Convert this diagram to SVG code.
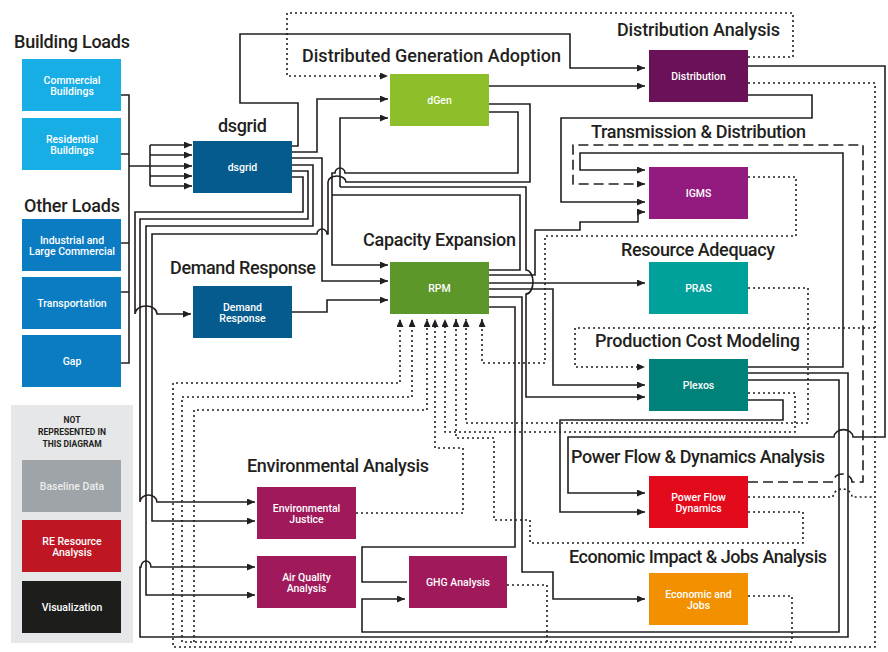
<svg xmlns="http://www.w3.org/2000/svg" width="888" height="652" viewBox="0 0 888 652">
  <defs>
    <marker id="ah" viewBox="0 0 8 7" refX="8" refY="3.5" markerWidth="8" markerHeight="7" markerUnits="userSpaceOnUse" orient="auto">
      <path d="M0,0 L8,3.5 L0,7 z" fill="#231f20"/>
    </marker>
    <style>
      .t { font-family: Roboto, "Open Sans", "Liberation Sans", sans-serif; font-weight: 500; font-size: 18px; fill: #231f20; }
      .n { font-family: Roboto, "Open Sans", "Liberation Sans", sans-serif; font-weight: 500; font-size: 10.5px; fill: #ffffff; text-anchor: middle; }
      .lg { font-family: Roboto, "Open Sans", "Liberation Sans", sans-serif; font-weight: 700; font-size: 8.5px; fill: #231f20; text-anchor: middle; }
      .ln { fill: none; stroke: #231f20; stroke-width: 1.6; }
      .dt { fill: none; stroke: #231f20; stroke-width: 1.6; stroke-dasharray: 2 3; }
      .ds { fill: none; stroke: #231f20; stroke-width: 1.6; stroke-dasharray: 10 5; }
      .arr { marker-end: url(#ah); }
    </style>
  </defs>

  <rect width="888" height="652" fill="#ffffff"/>

  <!-- connectors -->
  <g id="connectors">
    <!-- load inputs into dsgrid -->
    <path class="ln" d="M121,95 H129 V363 H121 M121,154 H129 M121,243 H129 M121,292 H129 M129,166 H150 M150,145 V186"/>
    <path class="ln arr" d="M150,145 H192"/>
    <path class="ln arr" d="M150,155 H192"/>
    <path class="ln arr" d="M150,166 H192"/>
    <path class="ln arr" d="M150,176 H192"/>
    <path class="ln arr" d="M150,186 H192"/>

    <!-- dsgrid outputs -->
    <path class="ln arr" d="M292,146 H298 V103 H240 V34 H570 V68 H645"/>
    <path class="ln arr" d="M292,152 H317 V99 H388"/>
    <path class="ln arr" d="M292,158 H322 V281 H388"/>
    <path class="ln arr" d="M292,165 H313 V226 H146 V595 H255"/>
    <path class="ln arr" d="M292,171 H308 V219 H140 V502 A8.5,7 0 0 1 157,502 H255"/>
    <path class="ln arr" d="M292,177 H303 V212 H135 V314 A11,8 0 0 1 157,314 H191"/>

    <!-- dGen links -->
    <path class="ln arr" d="M489,86 H645"/>
    <path class="ln arr" d="M489,112 H518 V173 H345 A5,5 0 0 0 335,173 H332 V265 H388"/>
    <path class="ln arr" d="M489,104 H530 V182 H346 A9,6 0 0 0 328,182 V234 H327 A5,5 0 0 0 317,234 H152 V521 H255"/>
    <path class="ln arr" d="M340,187 H526 V270 A7,12 0 0 1 526,294 V397 H645"/>
    <path class="ln arr" d="M340,187 V118 H388"/>
    <path class="ln" d="M332,195 H520 V270 H489"/>

    <!-- Demand Response to RPM -->
    <path class="ln arr" d="M292,312 H327 V300 H388"/>

    <!-- RPM outputs -->
    <path class="ln arr" d="M489,275 H535 V230 H580 V222 H638 V212 H645"/>
    <path class="ln arr" d="M489,283 H645"/>
    <path class="ln arr" d="M489,289 H553 V385 H645"/>
    <path class="ln arr" d="M489,297 H522 V572 H553 V599 H645"/>
    <path class="ln" d="M489,307 H515 V547 H362 V582 H407"/>

    <!-- Plexos outputs -->
    <path class="ln arr" d="M748,367 H843 V153 H580 V170 H645"/>
    <path class="ln arr" d="M748,373 H848 V637 H140 V567 H141 A5,6 0 0 1 151,567 H255"/>
    <path class="ln arr" d="M748,380 H839 V632 H362 V599 H405"/>
    <path class="ln arr" d="M748,400 H783 V420 H560 V512 H645"/>

    <!-- Distribution outputs -->
    <path class="ln arr" d="M748,66 H885 V437 H853 A9,7 0 0 0 834,437 H568 V493 H645"/>
    <path class="ln arr" d="M748,95 H812 V118 H561 V202 H645"/>

    <!-- dashed transmission & distribution loop -->
    <path class="ds arr" d="M748,482 H833 A9.5,8 0 0 1 852,482 H863 V145 H573 V184 H645"/>

    <!-- dotted feedback links -->
    <path class="dt arr" d="M748,57 H793 V13 H287 V76 H388"/>
    <path class="dt arr" d="M748,83 H875 V647 H173 V383 H400 V319"/>
    <path class="dt arr" d="M875,328 H575 V367 H645"/>
    <path class="dt arr" d="M748,177 H796 V236 H545 V363 H482 V319"/>
    <path class="dt arr" d="M748,288 H808 V423 H466 V319"/>
    <path class="dt arr" d="M748,393 H795 V432 H445 V319"/>
    <path class="dt" d="M748,497 H833 A9.5,8 0 0 1 852,497 H875"/>
    <path class="dt arr" d="M748,512 H803 V543 H530 V520 H494 V438 H456 V319"/>
    <path class="dt arr" d="M748,596 H792 V642 H182 V397 H412 V319"/>
    <path class="dt" d="M507,585 H547 V642"/>
    <path class="dt arr" d="M194,642 V410 H427 V319"/>
    <path class="dt arr" d="M356,513 H463 V448 H435 V319"/>
  </g>

  <!-- load sources -->
  <g id="building-loads">
    <text class="t" x="14" y="48" textLength="116">Building Loads</text>
  </g>
  <g id="commercial-buildings">
    <rect x="22" y="59" width="99" height="52" fill="#17ade5"/>
    <text class="n" x="72" y="83.5">Commercial</text>
    <text class="n" x="72" y="95">Buildings</text>
  </g>
  <g id="residential-buildings">
    <rect x="22" y="118" width="99" height="52" fill="#17ade5"/>
    <text class="n" x="72" y="142.5">Residential</text>
    <text class="n" x="72" y="154">Buildings</text>
  </g>
  <g id="other-loads">
    <text class="t" x="24" y="212" textLength="96">Other Loads</text>
  </g>
  <g id="industrial">
    <rect x="22" y="219" width="99" height="52" fill="#0b7bc2"/>
    <text class="n" x="72" y="243.5">Industrial and</text>
    <text class="n" x="72" y="255">Large Commercial</text>
  </g>
  <g id="transportation">
    <rect x="22" y="277" width="99" height="52" fill="#0b7bc2"/>
    <text class="n" x="72" y="307">Transportation</text>
  </g>
  <g id="gap">
    <rect x="22" y="335" width="99" height="52" fill="#0b7bc2"/>
    <text class="n" x="72" y="365">Gap</text>
  </g>

  <!-- legend panel -->
  <g id="not-represented">
    <rect x="11" y="405" width="122" height="238" fill="#e6e7e8"/>
    <text class="lg" x="72" y="423">NOT</text>
    <text class="lg" x="72" y="435">REPRESENTED IN</text>
    <text class="lg" x="72" y="447">THIS DIAGRAM</text>
  </g>
  <g id="baseline-data">
    <rect x="22" y="460" width="99" height="52" fill="#9fa4a8"/>
    <text class="n" x="72" y="490" fill="#eceded" style="fill:#eceded">Baseline Data</text>
  </g>
  <g id="re-resource">
    <rect x="22" y="520" width="99" height="52" fill="#be1622"/>
    <text class="n" x="72" y="544.5">RE Resource</text>
    <text class="n" x="72" y="556">Analysis</text>
  </g>
  <g id="visualization">
    <rect x="22" y="581" width="99" height="52" fill="#1d1d1b"/>
    <text class="n" x="72" y="611">Visualization</text>
  </g>

  <!-- models -->
  <g id="dsgrid">
    <text class="t" x="218" y="132" textLength="49">dsgrid</text>
    <rect x="193" y="141" width="99" height="52" fill="#055b8e"/>
    <text class="n" x="242.5" y="171">dsgrid</text>
  </g>
  <g id="demand-response">
    <text class="t" x="170" y="274" textLength="146">Demand Response</text>
    <rect x="193" y="286" width="99" height="52" fill="#055b8e"/>
    <text class="n" x="242.5" y="310.5">Demand</text>
    <text class="n" x="242.5" y="322">Response</text>
  </g>
  <g id="dgen">
    <text class="t" x="302" y="62" textLength="259">Distributed Generation Adoption</text>
    <rect x="390" y="74" width="99" height="52" fill="#8cbf2a"/>
    <text class="n" x="439.5" y="104">dGen</text>
  </g>
  <g id="rpm">
    <text class="t" x="363" y="246" textLength="153">Capacity Expansion</text>
    <rect x="390" y="262" width="99" height="52" fill="#5d9629"/>
    <text class="n" x="439.5" y="292">RPM</text>
  </g>
  <g id="distribution">
    <text class="t" x="617" y="36" textLength="163">Distribution Analysis</text>
    <rect x="649" y="50" width="99" height="52" fill="#6a1157"/>
    <text class="n" x="698.5" y="80">Distribution</text>
  </g>
  <g id="igms">
    <text class="t" x="591" y="138" textLength="215">Transmission &amp; Distribution</text>
    <rect x="649" y="167" width="99" height="52" fill="#931b7f"/>
    <text class="n" x="698.5" y="197">IGMS</text>
  </g>
  <g id="pras">
    <text class="t" x="621" y="256" textLength="154">Resource Adequacy</text>
    <rect x="649" y="262" width="99" height="52" fill="#00a19b"/>
    <text class="n" x="698.5" y="292">PRAS</text>
  </g>
  <g id="plexos">
    <text class="t" x="595" y="347" textLength="205">Production Cost Modeling</text>
    <rect x="649" y="359" width="99" height="52" fill="#00817a"/>
    <text class="n" x="698.5" y="389">Plexos</text>
  </g>
  <g id="power-flow">
    <text class="t" x="571" y="463" textLength="254">Power Flow &amp; Dynamics Analysis</text>
    <rect x="649" y="476" width="99" height="52" fill="#e30a1b"/>
    <text class="n" x="698.5" y="500.5">Power Flow</text>
    <text class="n" x="698.5" y="512">Dynamics</text>
  </g>
  <g id="economic-jobs">
    <text class="t" x="569" y="563" textLength="258">Economic Impact &amp; Jobs Analysis</text>
    <rect x="649" y="573" width="99" height="52" fill="#f29000"/>
    <text class="n" x="698.5" y="597.5">Economic and</text>
    <text class="n" x="698.5" y="609">Jobs</text>
  </g>
  <g id="environmental-justice">
    <text class="t" x="247" y="472" textLength="182">Environmental Analysis</text>
    <rect x="257" y="487" width="99" height="52" fill="#a0195b"/>
    <text class="n" x="306.5" y="511.5">Environmental</text>
    <text class="n" x="306.5" y="523">Justice</text>
  </g>
  <g id="air-quality">
    <rect x="257" y="556" width="99" height="52" fill="#a0195b"/>
    <text class="n" x="306.5" y="580.5">Air Quality</text>
    <text class="n" x="306.5" y="592">Analysis</text>
  </g>
  <g id="ghg-analysis">
    <rect x="409" y="556" width="98" height="52" fill="#a0195b"/>
    <text class="n" x="458" y="586">GHG Analysis</text>
  </g>
</svg>
